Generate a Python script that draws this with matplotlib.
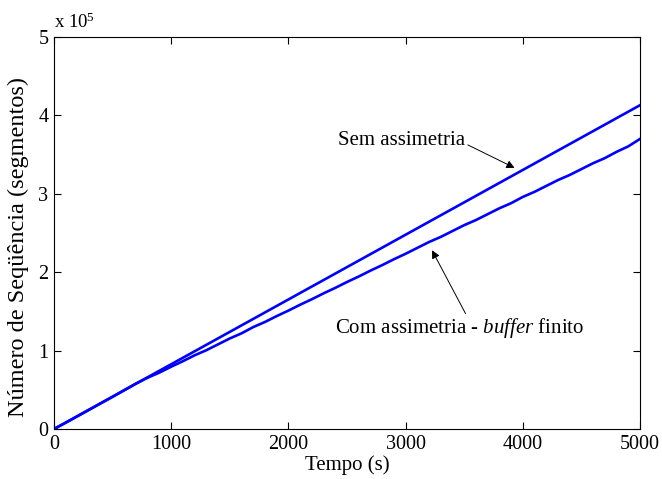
import matplotlib
matplotlib.use("Agg")
import matplotlib.pyplot as plt
from matplotlib.ticker import FuncFormatter

plt.rcParams['font.family'] = ['Liberation Serif', 'DejaVu Serif']
plt.rcParams['mathtext.fontset'] = 'custom'
plt.rcParams['mathtext.rm'] = 'Liberation Serif'
plt.rcParams['mathtext.it'] = 'Liberation Serif:italic'

# Data
t_upper = [0, 1000, 2000, 3000, 4000, 5000]
seq_upper = [0, 82600, 165200, 247800, 330400, 413000]

t_lower = [0, 100, 200, 300, 400, 500, 600, 700, 800, 900,
           1000, 1100, 1200, 1300, 1400, 1500, 1600, 1700, 1800, 1900,
           2000, 2100, 2200, 2300, 2400, 2500, 2600, 2700, 2800, 2900,
           3000, 3100, 3200, 3300, 3400, 3500, 3600, 3700, 3800, 3900,
           4000, 4100, 4200, 4300, 4400, 4500, 4600, 4700, 4800, 4900, 5000]
seq_lower = [0, 8000, 16200, 24500, 32800, 41000, 49500, 58000, 65500, 72000,
             79500, 86500, 94000, 100500, 108000, 115500, 122000, 130000, 136500, 144000,
             151000, 158500, 165500, 173000, 180000, 187500, 194500, 202000, 209000, 216500,
             223500, 231000, 238500, 245000, 252500, 260000, 266500, 274000, 281500, 288000,
             296000, 302500, 310000, 317500, 324000, 331500, 339000, 345500, 353500, 360500, 370000]

xticks = [0, 1000, 2000, 3000, 4000, 5000]
yticks = [0, 100000, 200000, 300000, 400000, 500000]

fig = plt.figure(figsize=(6.62, 4.79), dpi=100)
ax = fig.add_axes([0.0816, 0.1044, 0.8852, 0.8184])

ax.plot(t_upper, seq_upper, color='#0000ff', lw=1.9)
ax.plot(t_lower, seq_lower, color='#0000ff', lw=1.9)

ax.set_xlim(0, 5000)
ax.set_ylim(0, 500000)
ax.set_xticks(xticks)
ax.set_yticks(yticks)
ax.yaxis.set_major_formatter(FuncFormatter(lambda v, p: f"{int(round(v / 1e5))}"))
ax.tick_params(direction='in', length=5, width=0.8, top=True, right=True, labelsize=14.5, pad=4)
for s in ax.spines.values():
    s.set_linewidth(0.8)

ax.set_xlabel("Tempo (s)", fontsize=15, labelpad=1)
ax.set_ylabel("Número de Seqüência (segmentos)", fontsize=17.5)
ax.yaxis.set_label_coords(-0.043, 0.464)

fig.text(0.082, 0.933, r"x 10$^{5}$", fontsize=13.5, ha='left', va='bottom')

arrow = dict(arrowstyle='-|>', color='k', lw=0.7, mutation_scale=12, shrinkA=0, shrinkB=0)
arrow1 = dict(arrow, relpos=(1.0, 0.35))
ax.annotate("Sem assimetria", xy=(3930, 333000), xytext=(3507, 362000),
            fontsize=15, ha='right', va='baseline', arrowprops=arrow1)
arrow2 = dict(arrow, relpos=(0.53, 1.0))
ax.annotate(r"Com assimetria - $\mathit{buffer}$ finito", xy=(3225, 228000), xytext=(3460, 122000),
            fontsize=15, ha='center', va='baseline', arrowprops=arrow2)

fig.savefig("out.png", dpi=100)
